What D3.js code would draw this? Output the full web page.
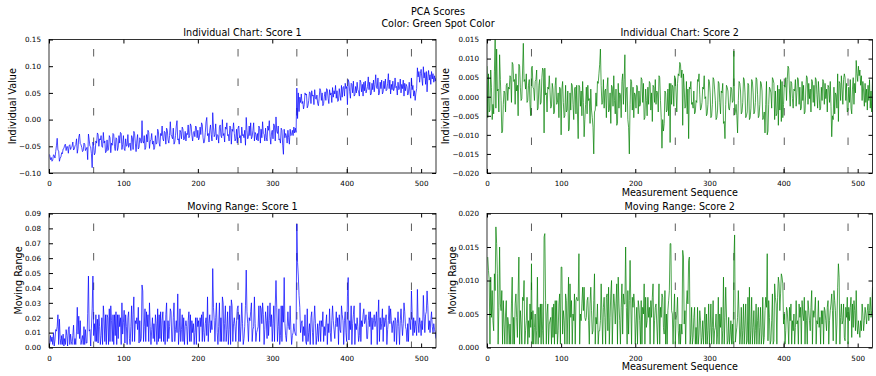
<!DOCTYPE html>
<html><head><meta charset="utf-8">
<script src="https://cdn.jsdelivr.net/npm/d3@7"></script>
<style>body{margin:0;background:#fff}svg{display:block;font-family:"DejaVu Sans",sans-serif}</style>
</head><body><svg id="c" width="876" height="376"></svg>
<script>
// ---- data ----
const xTicks = [0,100,200,300,400,500];
const xMax = 520;
const phaseLines = [60,254,333,401,487];
// Score 1, in thousandths
const score1Milli = [
-65,-67,-75,-71,-78,-76,-66,-67,-72,-60,
-49,-35,-57,-59,-78,-72,-70,-62,-64,-55,
-54,-48,-46,-58,-50,-51,-63,-49,-47,-56,
-52,-50,-42,-57,-55,-49,-47,-36,-63,-54,
-33,-27,-45,-47,-52,-60,-58,-44,-46,-58,
-55,-52,-75,-27,-38,-50,-51,-64,-90,-42,
-50,-66,-62,-40,-44,-25,-28,-50,-36,-38,
-30,-50,-52,-24,-44,-40,-62,-60,-38,-58,
-56,-30,-34,-62,-44,-48,-26,-28,-50,-58,
-34,-36,-58,-52,-30,-44,-24,-26,-56,-47,
-30,-55,-58,-36,-50,-48,-28,-52,-46,-44,
-58,-30,-34,-56,-22,-26,-44,-60,-40,-28,
-55,-52,-34,-38,-44,-2,-40,-44,-30,-56,
-52,-28,-42,-20,-24,-54,-40,-38,-26,-46,
-40,-56,-52,-30,-46,-44,-18,-22,-44,-50,
-26,-30,-12,-36,-40,-22,-24,-46,-16,-20,
-38,-44,-30,-4,-28,-32,-36,-16,-46,-42,
-30,-12,-2,-38,-36,-46,-20,-24,-36,-14,
-18,-38,-36,-22,-40,-26,-28,-10,-34,-30,
-8,-12,-30,-40,-24,-22,-32,-12,-14,-34,
-20,-38,-34,-14,-28,-6,-10,-34,-44,-40,
-24,-4,4,-30,-26,-42,-20,-10,-28,-40,
13,-14,-32,-28,-8,-38,-28,-30,-44,-14,
-10,-30,-34,0,-30,-26,-42,-14,-18,-6,
-30,-28,-40,-12,-14,-46,-18,-22,-6,-26,
-40,-36,-18,-44,-16,-12,-34,-30,-44,-14,
-30,-28,-34,-20,-48,4,-20,-36,-32,-12,
-30,-6,-36,-32,-20,-6,-40,-24,-28,-38,
-26,-40,-12,-16,-44,-18,-34,-4,-26,-28,
-40,-16,-34,-40,-12,-20,-2,-32,-46,-24,
-20,-36,-8,-12,-40,5,-22,-26,-12,-38,
-36,-44,-16,-20,-48,-65,-18,-34,-26,-30,
-44,-20,-34,-46,-18,-30,-28,-20,-30,-14,
-25,-16,-24,59,2,50,15,42,32,48,
30,34,20,28,50,46,48,22,26,36,
52,50,30,54,44,46,28,56,40,38,
46,30,26,40,58,54,36,50,26,30,
44,52,36,58,56,40,30,56,46,50,
32,60,42,54,48,64,40,54,34,36,
58,46,36,64,42,60,62,44,68,58,
62,28,75,70,52,40,68,66,50,72,
44,46,62,50,70,56,52,44,74,70,
52,66,44,70,54,72,50,56,62,80,
56,70,46,48,68,56,74,52,66,84,
60,58,78,46,50,70,58,74,48,52,
72,58,76,54,56,68,86,58,74,48,
66,56,72,54,58,78,60,62,46,70,
56,58,76,50,66,58,74,44,68,54,
66,62,46,50,70,52,40,78,56,64,
44,54,36,50,58,97,80,90,70,86,
94,76,64,99,78,88,66,90,52,80,
92,74,84,66,90,76,86,70,82,72,78];
// Score 2, in ten-thousandths
const score2TenThou = [
80,-55,60,-40,-35,70,25,-60,-20,-45,
65,150,-30,125,15,20,-40,110,45,-10,
-95,-90,-20,15,10,-40,30,35,-10,25,
20,55,50,-15,90,85,40,45,-20,60,
15,30,-50,85,80,25,-10,-5,70,140,
40,45,20,60,-15,-10,30,45,-20,-50,
75,80,25,20,-10,40,45,70,-35,-30,
30,45,-20,-15,50,75,70,-95,75,5,
10,-40,25,20,55,15,-30,-25,35,20,
-45,-40,30,50,-20,-15,10,-55,25,20,
-100,20,40,-15,-55,-50,30,-40,-35,15,
-90,-85,10,-35,35,30,-20,-60,20,25,
-45,30,-40,-110,30,25,-25,15,-50,40,
-15,-105,-60,-20,25,-45,30,-10,-5,-70,
20,-35,-55,-80,-150,-40,-35,10,-25,40,
35,60,85,125,30,-20,-15,45,-30,15,
20,-55,25,50,-40,-35,10,-70,30,25,
-25,55,-10,-45,20,-75,-70,35,-30,10,
5,-55,40,60,-20,45,110,-40,20,25,
-60,-80,-150,-20,45,40,-35,25,-55,10,
5,-30,30,25,-45,15,-25,-20,50,45,
-15,35,-60,-55,20,-10,-50,25,-20,40,
35,-35,10,-65,30,25,-15,45,-20,15,
10,-40,55,50,-10,-55,-135,-60,-90,-70,
15,10,-40,-35,20,-50,35,-120,35,-20,
30,25,-25,55,50,10,-40,35,60,55,
90,85,50,70,-75,60,25,-30,-25,40,
-45,20,-110,25,20,40,-20,-15,-30,15,
-45,-40,-10,-15,45,40,60,5,-35,-30,
-15,25,20,55,-5,0,-50,-45,-20,45,
40,10,-55,-50,-20,50,45,20,-10,-60,
-55,-35,40,35,-15,-45,15,10,35,-70,
-65,-110,-20,30,25,15,-30,-35,-15,25,
20,-15,-10,120,-48,-40,-20,-50,-95,-10,
40,35,15,-45,-40,-15,50,45,10,-55,
-50,-40,35,30,-60,-55,-30,45,40,10,
-45,-40,-15,50,45,5,-55,-50,-20,40,
35,15,-60,-55,-40,-95,-20,40,-100,-90,
-20,25,20,10,-30,50,45,35,-60,15,
-50,-45,30,-75,20,-35,45,-65,40,-55,
-20,30,25,50,-10,45,80,75,15,-25,
40,35,-5,-30,20,15,45,-25,10,50,
45,-20,25,-35,-30,40,-10,30,-45,-40,
15,55,50,-20,35,-5,20,-40,45,40,
-15,30,-25,50,45,5,-30,40,10,-35,
-30,25,-10,45,40,-20,35,-5,20,-40,
30,25,-15,40,-25,-105,-50,-60,25,-45,
10,5,-30,60,-65,40,35,-10,55,20,
-20,45,60,50,-10,35,-40,-35,25,-15,
45,-30,-45,20,50,-20,35,10,95,60,
40,80,55,70,30,55,-10,40,15,-25,
35,-15,20,-35,30,-10,45,-30,15,-40,50];
const ticks1 = [-0.10,-0.05,0.00,0.05,0.10,0.15];
const ticks2 = [-0.020,-0.015,-0.010,-0.005,0.000,0.005,0.010,0.015];
const ticksMR1 = [0,0.01,0.02,0.03,0.04,0.05,0.06,0.07,0.08,0.09];
const ticksMR2 = [0,0.005,0.010,0.015,0.020];

const s1 = score1Milli.map(v => v*0.001);
const s2 = score2TenThou.map(v => v*0.0001);
const mr = a => a.slice(1).map((v,i) => ({i:i+1, v:Math.abs(v - a[i])}));
const ind = a => a.map((v,i) => ({i, v}));

const svg = d3.select("#c");
const panels = [
 {x0:49, x1:436, y0:39.5, y1:173, dom:[-0.10,0.15], ticks:ticks1, fmt:".2f", data:ind(s1), color:"#0000ff",
  title:"Individual Chart: Score 1", ylab:"Individual Value", ylx:12, xlab:null},
 {x0:487, x1:872.5, y0:39.5, y1:173, dom:[-0.020,0.015], ticks:ticks2, fmt:".3f", data:ind(s2), color:"#008000",
  title:"Individual Chart: Score 2", ylab:"Individual Value", ylx:445, xlab:"Measurement Sequence"},
 {x0:49, x1:436, y0:213.5, y1:347.5, dom:[0,0.09], ticks:ticksMR1, fmt:".2f", data:mr(s1), color:"#0000ff",
  title:"Moving Range: Score 1", ylab:"Moving Range", ylx:18, xlab:null},
 {x0:487, x1:872.5, y0:213.5, y1:347.5, dom:[0,0.020], ticks:ticksMR2, fmt:".3f", data:mr(s2), color:"#008000",
  title:"Moving Range: Score 2", ylab:"Moving Range", ylx:452, xlab:"Measurement Sequence"}
];

svg.append("text").attr("x",438).attr("y",14.5).attr("text-anchor","middle").attr("font-size",9.6).text("PCA Scores");
svg.append("text").attr("x",438).attr("y",26.5).attr("text-anchor","middle").attr("font-size",9.6).text("Color: Green Spot Color");

panels.forEach((p,k) => {
  const x = d3.scaleLinear().domain([0,xMax]).range([p.x0,p.x1]);
  const y = d3.scaleLinear().domain(p.dom).range([p.y1,p.y0]);
  const g = svg.append("g");
  const cid = "clip"+k;
  svg.append("clipPath").attr("id",cid).append("rect")
    .attr("x",p.x0).attr("y",p.y0).attr("width",p.x1-p.x0).attr("height",p.y1-p.y0);
  g.selectAll("line.ph").data(phaseLines).join("line")
    .attr("x1",d=>x(d)).attr("x2",d=>x(d)).attr("y1",p.y1).attr("y2",p.y0)
    .attr("stroke","#333").attr("stroke-width",0.8).attr("stroke-dasharray","7.5,22").attr("stroke-dashoffset",1.5);
  g.append("path").datum(p.data).attr("clip-path",`url(#${cid})`)
    .attr("fill","none").attr("stroke",p.color).attr("stroke-width",0.7)
    .attr("d", d3.line().x(d=>x(d.i)).y(d=>y(d.v)));
  const f = d3.format(p.fmt);
  const ax = (gen, tr) => g.append("g").attr("transform",tr).call(gen)
    .call(s=>s.select(".domain").remove())
    .call(s=>s.selectAll("text").attr("font-size",7.2).attr("fill","#000").attr("font-family","DejaVu Sans"));
  ax(d3.axisBottom(x).tickValues(xTicks).tickSizeInner(-4).tickSizeOuter(0).tickPadding(8).tickFormat(d3.format("d")), `translate(0,${p.y1})`);
  ax(d3.axisTop(x).tickValues(xTicks).tickSizeInner(-4).tickSizeOuter(0).tickFormat(""), `translate(0,${p.y0})`);
  ax(d3.axisLeft(y).tickValues(p.ticks).tickSizeInner(-4).tickSizeOuter(0).tickPadding(8).tickFormat(f), `translate(${p.x0},0)`);
  ax(d3.axisRight(y).tickValues(p.ticks).tickSizeInner(-4).tickSizeOuter(0).tickFormat(""), `translate(${p.x1},0)`);
  g.append("rect").attr("x",p.x0).attr("y",p.y0).attr("width",p.x1-p.x0).attr("height",p.y1-p.y0)
    .attr("fill","none").attr("stroke","#000").attr("stroke-width",0.8);
  g.append("text").attr("x",(p.x0+p.x1)/2).attr("y",p.y0-4).attr("text-anchor","middle").attr("font-size",9.6).text(p.title);
  g.append("text").attr("transform",`translate(${p.ylx},${(p.y0+p.y1)/2}) rotate(-90)`)
    .attr("text-anchor","middle").attr("dominant-baseline","central").attr("font-size",9.6).text(p.ylab);
  if (p.xlab) g.append("text").attr("x",(p.x0+p.x1)/2).attr("y",p.y1+22.5).attr("text-anchor","middle").attr("font-size",9.6).text(p.xlab);
});
</script></body></html>
